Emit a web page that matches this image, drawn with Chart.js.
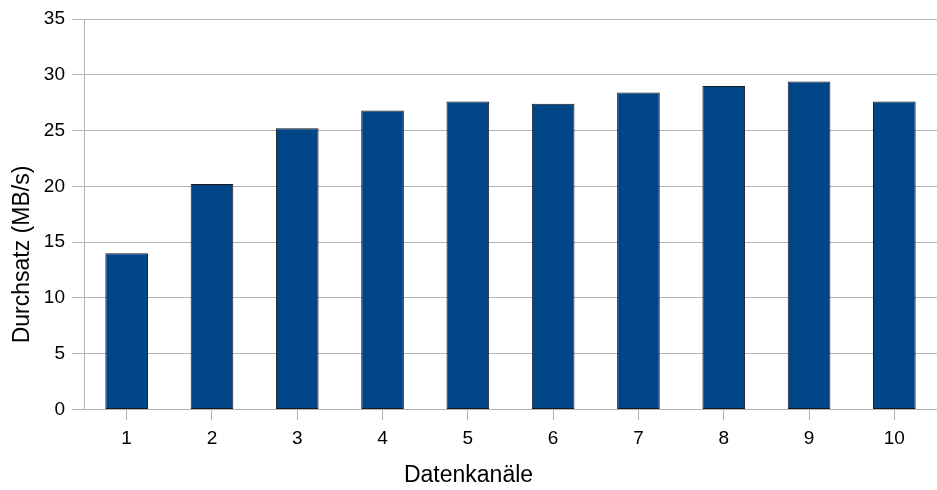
<!DOCTYPE html>
<html>
<head>
<meta charset="utf-8">
<script src="https://cdn.jsdelivr.net/npm/chart.js@4"></script>
<style>
    html, body { margin: 0; padding: 0; background: #fff; }
    #wrap { width: 937px; height: 490px; position: relative; }
</style>
</head>
<body>
<div id="wrap"><canvas id="chart"></canvas></div>
<script>
const channels = ['1', '2', '3', '4', '5', '6', '7', '8', '9', '10'];
const throughput = [14.0, 20.2, 25.2, 26.8, 27.6, 27.4, 28.4, 29.0, 29.4, 27.6];
const yMin = 0;
const yMax = 35;
const yStep = 5;

const gridColor = '#b3b3b3';
const fontFamily = '"Liberation Sans", Arial, sans-serif';

new Chart(document.getElementById('chart').getContext('2d'), {
    type: 'bar',
    data: {
        labels: channels,
        datasets: [{
            label: 'Durchsatz',
            data: throughput,
            backgroundColor: '#004586',
            borderColor: '#1a1a1a',
            borderWidth: 1,
            borderSkipped: false,
            barPercentage: 0.5,
            categoryPercentage: 1.0
        }]
    },
    options: {
        responsive: true,
        maintainAspectRatio: false,
        animation: false,
        layout: { padding: { top: 19, right: 0, left: 0, bottom: 0 } },
        plugins: {
            legend: { display: false },
            tooltip: { enabled: false },
            // x axis title, centred on the whole canvas
            title: {
                display: true,
                position: 'bottom',
                text: 'Datenkanäle',
                color: '#000',
                font: { family: fontFamily, size: 23, weight: 'normal' },
                padding: { top: 0, bottom: 1 }
            },
            // y axis title, centred on the whole canvas
            subtitle: {
                display: true,
                position: 'left',
                text: 'Durchsatz (MB/s)',
                color: '#000',
                font: { family: fontFamily, size: 23, weight: 'normal' },
                padding: { top: 9, bottom: 0 }
            }
        },
        scales: {
            x: {
                grid: {
                    display: true,
                    drawOnChartArea: false,
                    drawTicks: true,
                    offset: false,
                    tickLength: 11,
                    color: gridColor
                },
                border: { display: true, color: gridColor },
                ticks: {
                    color: '#000',
                    padding: 7,
                    maxRotation: 0,
                    font: { family: fontFamily, size: 19 }
                },
                afterFit: scale => { scale.height = 52; }
            },
            y: {
                min: yMin,
                max: yMax,
                grid: {
                    color: gridColor,
                    drawTicks: true,
                    tickLength: 12
                },
                border: { display: true, color: gridColor },
                ticks: {
                    stepSize: yStep,
                    color: '#000',
                    padding: 7,
                    font: { family: fontFamily, size: 19 }
                },
                afterFit: scale => { scale.width = 47.4; }
            }
        }
    }
});
</script>
</body>
</html>
